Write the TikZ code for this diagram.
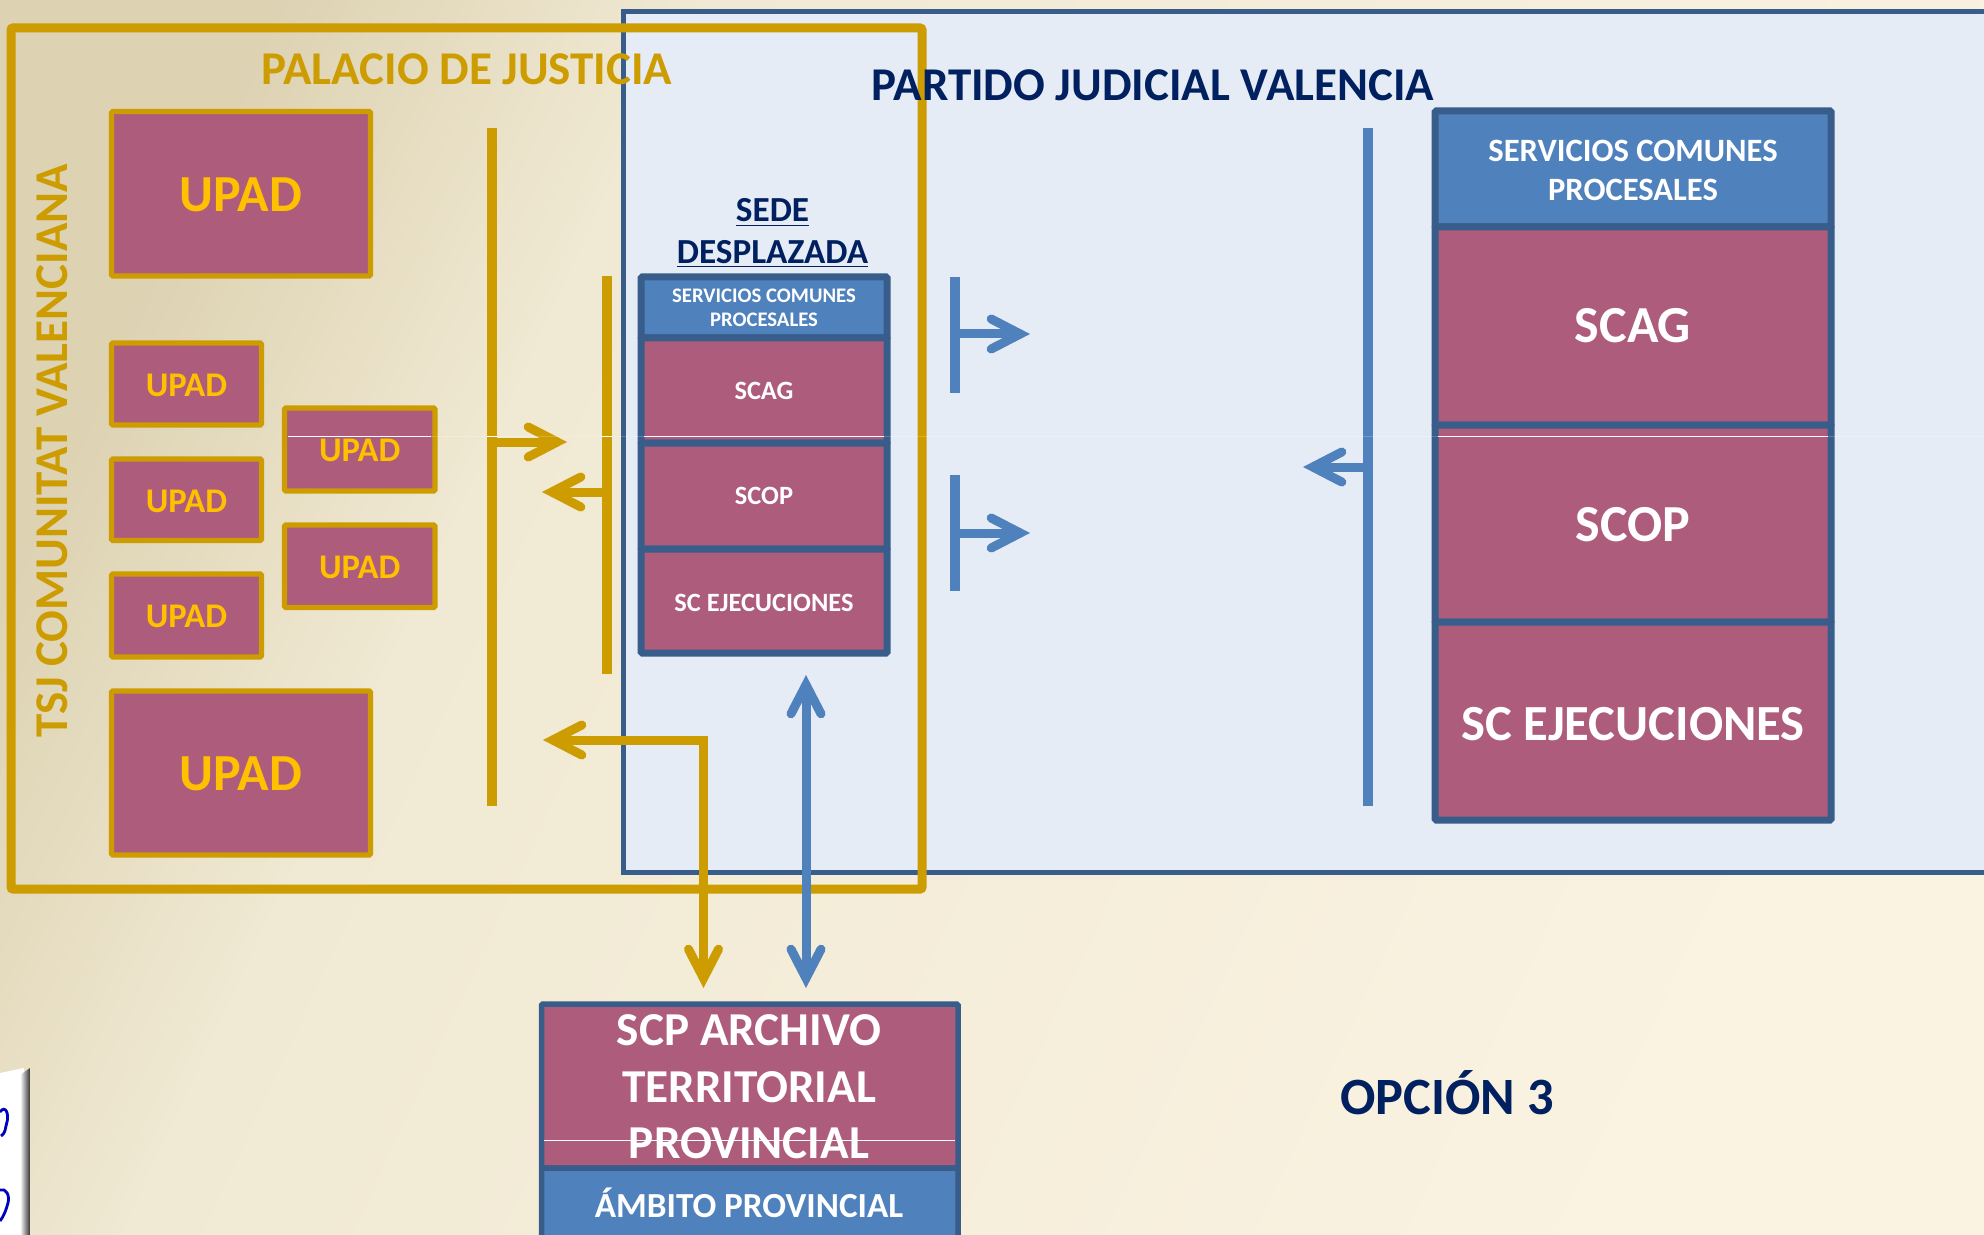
\documentclass[tikz,border=0pt]{standalone}
\usepackage{fontspec}
\setmainfont{Carlito}
\usetikzlibrary{arrows.meta}
\definecolor{pinkfill}{HTML}{AD5D7B}
\definecolor{bluefill}{HTML}{4F81BD}
\definecolor{blueline}{HTML}{385D8A}
\definecolor{goldline}{HTML}{CC9C00}
\definecolor{goldtext}{HTML}{FFC000}
\definecolor{navy}{HTML}{002060}
\definecolor{panel}{HTML}{E6ECF6}
\definecolor{dkbg}{HTML}{DDD2B2}
\definecolor{mdbg}{HTML}{F0E9D3}
\definecolor{ltbg}{HTML}{FBF3E2}
\pgfdeclarehorizontalshading{bgsh}{100bp}{color(0bp)=(dkbg); color(24bp)=(dkbg); color(35bp)=(mdbg); color(74bp)=(ltbg); color(100bp)=(ltbg)}
\newcommand{\fpx}[1]{\fontsize{#1pt}{#1pt}\selectfont\bfseries}
\newcommand{\lowr}[2]{\raisebox{-#1}[\height][\depth]{#2}}
% \bx{name}{x1}{y1}{x2}{y2}{style}{text}
\newcommand{\bx}[7]{\node[#6,minimum width={(#4-#2)*0.5pt},minimum height={(#5-#3)*0.5pt}] (#1) at ({(#2+#4)/2},{(#3+#5)/2}) {#7};}
\tikzset{
  box/.style={rectangle,rounded corners=.6pt,inner sep=0pt,outer sep=0pt,align=center,text=white},
  upad/.style={box,draw=goldline,fill=pinkfill,line width=2.6pt,text=goldtext},
  pinkbox/.style={box,draw=blueline,fill=pinkfill,line width=3.5pt},
  bluebox/.style={box,draw=blueline,fill=bluefill,line width=3.5pt},
  bar/.style={rectangle,inner sep=0pt,outer sep=0pt,minimum width=5pt},
  goldbar/.style={bar,fill=goldline},
  bluebar/.style={bar,fill=bluefill},
  tipb/.tip={Straight Barb[length=14.5pt,width=15pt,line cap=round,line join=miter]},
  garrow/.style={draw=goldline,line width=4.5pt,-tipb},
  barrow/.style={draw=bluefill,line width=4.5pt,-tipb},
  gdouble/.style={draw=goldline,line width=4.5pt,tipb-tipb},
  bdouble/.style={draw=bluefill,line width=4.5pt,tipb-tipb},
  title/.style={inner sep=0pt,outer sep=0pt},
  hair/.style={white,line width=.5pt}
}
\begin{document}
\begin{tikzpicture}[x=0.5pt,y=-0.5pt]
\useasboundingbox (0,0) rectangle (1984,1235);
\shade[shading=bgsh,shading angle=-25] (0,0) rectangle (1984,1235);
% panel and frame
\draw[blueline,fill=panel,line width=2.5pt] (623.5,12) rectangle (2000,872);
\draw[goldline,line width=4.5pt,rounded corners=1pt] (11,28) rectangle (922,889);
\node[title,text=navy,font=\fpx{23.5}] (partido) at (1153,85) {PARTIDO JUDICIAL VALENCIA};
\node[title,text=goldline,font=\fpx{23.5}] (palacio) at (467,69) {PALACIO DE JUSTICIA};
\node[title,text=goldline,font=\fpx{23.5},rotate=90] (tsj) at (52,451) {TSJ COMUNITAT VALENCIANA};
% UPAD boxes
\bx{u1}{111.5}{111.5}{370.5}{276}{upad,font=\fpx{26}}{\lowr{.6pt}{UPAD}}
\bx{u2}{111.5}{343}{261.5}{425}{upad,font=\fpx{17.3}}{\lowr{.6pt}{UPAD}}
\bx{u3}{111.5}{459}{261.5}{540.5}{upad,font=\fpx{17.3}}{\lowr{.6pt}{UPAD}}
\bx{u4}{111.5}{574}{261.5}{657}{upad,font=\fpx{17.3}}{\lowr{.6pt}{UPAD}}
\bx{u5}{284.5}{408}{435}{491}{upad,font=\fpx{17.3}}{\lowr{.6pt}{UPAD}}
\bx{u6}{284.5}{525}{435}{607.5}{upad,font=\fpx{17.3}}{\lowr{.6pt}{UPAD}}
\bx{u7}{111.5}{691}{370.5}{855}{upad,font=\fpx{26}}{\lowr{.6pt}{UPAD}}
% bars
\bx{gb1}{487}{128}{497}{806}{goldbar}{}
\bx{gb2}{602}{276}{612}{674}{goldbar}{}
\bx{bb1}{950}{277}{960}{393}{bluebar}{}
\bx{bb2}{950}{475}{960}{591}{bluebar}{}
\bx{bb3}{1363}{128}{1373}{806}{bluebar}{}
% sede stack
\node[title,text=navy,font=\fpx{17.6}] (sede1) at (772.5,212.5) {\underline{SEDE}};
\node[title,text=navy,font=\fpx{17.6}] (sede2) at (772.5,254) {\underline{DESPLAZADA}};
\bx{sh}{641}{277}{887}{338}{bluebox,font=\fpx{10.35}}{SERVICIOS COMUNES\\[1.5pt]PROCESALES}
\bx{sa}{641}{338}{887}{443}{pinkbox,font=\fpx{13.2}}{SCAG}
\bx{so}{641}{443}{887}{549}{pinkbox,font=\fpx{13.2}}{SCOP}
\bx{se}{641}{549}{887}{653}{pinkbox,font=\fpx{13.2}}{\lowr{1.2pt}{SC EJECUCIONES}}
% right stack
\bx{rh}{1435}{111}{1831}{227}{bluebox,font=\fpx{16.3}}{\lowr{.6pt}{SERVICIOS COMUNES}\\[3pt]\lowr{.6pt}{PROCESALES}}
\bx{ra}{1435}{227}{1831}{425}{pinkbox,font=\fpx{26}}{SCAG}
\bx{ro}{1435}{425}{1831}{622}{pinkbox,font=\fpx{26}}{\lowr{.6pt}{SCOP}}
\bx{re}{1435}{622}{1831}{820}{pinkbox,font=\fpx{25.3}}{\lowr{1.6pt}{SC EJECUCIONES}}
% bottom stack
\bx{pa}{541.5}{1004}{958}{1168}{pinkbox,line width=2.75pt}{}
\node[title,text=white,font=\fpx{23.6}] (pt1) at (749,1030) {SCP ARCHIVO};
\node[title,text=white,font=\fpx{23.6}] (pt2) at (749,1087) {TERRITORIAL};
\node[title,text=white,font=\fpx{23.6}] (pt3) at (749,1143) {PROVINCIAL};
\bx{pb}{541.5}{1168}{958}{1300}{bluebox,line width=2.75pt}{}
\node[title,text=white,font=\fpx{17.6}] (pt4) at (749,1203) {ÁMBITO PROVINCIAL};
% connectors
\coordinate (t1) at (567,442);
\coordinate (t2) at (542,492);
\coordinate (t3) at (1030,334);
\coordinate (t4) at (1030,533);
\coordinate (t5) at (1303,467);
\draw[garrow] (gb1 |- t1) -- (t1);
\draw[garrow] (gb2 |- t2) -- (t2);
\draw[barrow] (bb1 |- t3) -- (t3);
\draw[barrow] (bb2 |- t4) -- (t4);
\draw[barrow] (bb3 |- t5) -- (t5);
\coordinate (g1) at (543,740);
\coordinate (g2) at (703.5,740);
\coordinate (g3) at (703.5,988);
\coordinate (b1) at (806,675);
\coordinate (b2) at (806,988);
\draw[gdouble] (g1) -- (g2) -- (g3);
\draw[bdouble] (b1) -- (b2);
\node[title,text=navy,font=\fpx{26.2}] (opcion) at (1447,1093) {OPCIÓN 3};
% thin light lines
\draw[hair,opacity=.2] (288,436) -- (1984,436);
\draw[hair] (288,436) -- (431,436);
\draw[hair] (gb1.west |- 0,436) -- (gb1.east |- 0,436);
\draw[hair] (gb2.west |- 0,436) -- (gb2.east |- 0,436);
\draw[hair] (644,436) -- (884,436);
\draw[hair] (1438,436) -- (1828,436);
\draw[hair] (544,1140) -- (955,1140);
% logo
\fill[white] (0,1073) -- (24,1068) -- (24,1235) -- (0,1235) -- cycle;
\shade[left color=white,right color=black!80] (20,1075) -- (30,1068) -- (30,1235) -- (20,1235) -- cycle;
\draw[blue!75!black,line width=1.4pt] (0,1112) .. controls (6,1104) and (9,1115) .. (7,1122) .. controls (5,1128) and (6,1133) .. (1,1136);
\draw[blue!75!black,line width=1.4pt] (0,1190) .. controls (6,1188) and (10,1195) .. (8,1203) .. controls (6,1210) and (4,1216) .. (0,1221);
\end{tikzpicture}
\end{document}
